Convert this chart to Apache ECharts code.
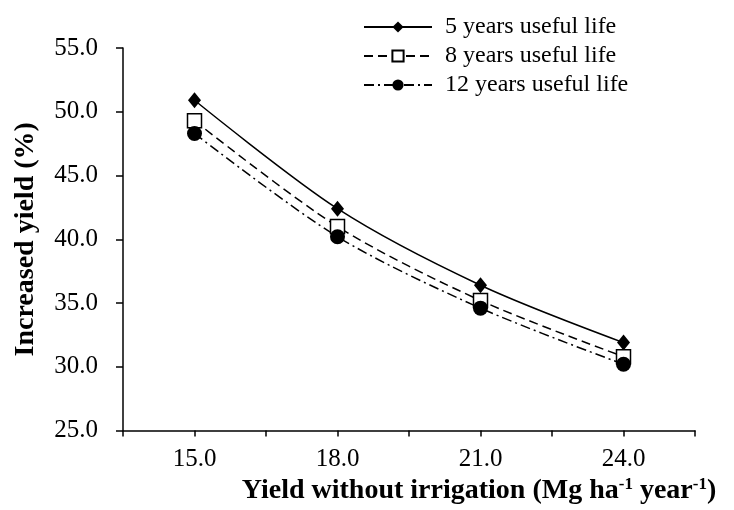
<!DOCTYPE html>
<html>
<head>
<meta charset="utf-8">
<script src="https://cdn.jsdelivr.net/npm/echarts@6/dist/echarts.min.js"></script>
<style>
  html, body { margin: 0; padding: 0; background: #fff; }
  #chart { width: 734px; height: 510px; }
</style>
</head>
<body>
<div id="chart"></div>
<script>
// yield without irrigation (Mg ha-1 year-1)
const yieldNoIrr = [15.0, 18.0, 21.0, 24.0];
// increased yield (%) per useful life
const life5 = [50.9, 42.4, 36.4, 31.9];
const life8 = [49.3, 41.0, 35.2, 30.8];
const life12 = [48.3, 40.2, 34.6, 30.2];
const seriesNames = ['5 years useful life', '8 years useful life', '12 years useful life'];

const font = '"Liberation Serif", "Times New Roman", serif';

function pairs(ys) {
  return yieldNoIrr.map((x, i) => [x, ys[i]]);
}

const chart = echarts.init(document.getElementById('chart'));

let option = {
  animation: false,
  backgroundColor: '#fff',
  textStyle: { fontFamily: font, color: '#000' },
  legend: {
    orient: 'vertical',
    left: 358,
    top: 10,
    itemWidth: 68,
    itemHeight: 14,
    itemGap: 5,
    textStyle: { fontFamily: font, fontSize: 24, color: '#000', padding: [0, 0, 0, 8] },
    data: seriesNames
  },
  grid: { left: 123, top: 48, right: 39, bottom: 77 },
  xAxis: {
    type: 'value',
    min: 13.5,
    max: 25.5,
    interval: 1.5,
    splitLine: { show: false },
    axisLine: { lineStyle: { color: '#000', width: 1.5 } },
    axisTick: { length: 6, lineStyle: { color: '#000', width: 1.5 } },
    axisLabel: {
      fontFamily: font, fontSize: 25, color: '#000', margin: 16,
      formatter: v => (Math.abs(v % 3) < 1e-6 ? v.toFixed(1) : '')
    },
    name: 'Yield without irrigation (Mg ha{sup|-1} year{sup|-1})',
    nameLocation: 'middle',
    nameGap: 44,
    nameTextStyle: {
      fontFamily: font, fontSize: 28, fontWeight: 'bold', color: '#000',
      padding: [0, 0, 0, 140],
      rich: {
        sup: { fontFamily: font, fontSize: 17, fontWeight: 'bold', color: '#000', verticalAlign: 'top', padding: [0, 0, 12, 0] }
      }
    }
  },
  yAxis: {
    type: 'value',
    min: 25,
    max: 55,
    interval: 5,
    splitLine: { show: false },
    axisLine: { show: true, lineStyle: { color: '#000', width: 1.5 } },
    axisTick: { show: true, length: 7, lineStyle: { color: '#000', width: 1.5 } },
    axisLabel: {
      fontFamily: font, fontSize: 25, color: '#000', margin: 25,
      formatter: v => v.toFixed(1)
    },
    name: 'Increased yield (%)',
    nameLocation: 'middle',
    nameGap: 83,
    nameTextStyle: { fontFamily: font, fontSize: 28, fontWeight: 'bold', color: '#000' }
  },
  series: [
    {
      name: seriesNames[0],
      type: 'line',
      smooth: 0.3,
      data: pairs(life5),
      symbol: 'diamond',
      symbolSize: [13, 16],
      itemStyle: { color: '#000' },
      lineStyle: { color: '#000', width: 1.5, type: 'solid' }
    },
    {
      name: seriesNames[1],
      type: 'line',
      smooth: 0.3,
      data: pairs(life8),
      symbol: 'rect',
      symbolSize: 14,
      itemStyle: { color: '#fff', borderColor: '#000', borderWidth: 1.5 },
      lineStyle: { color: '#000', width: 1.5, type: [9, 5] }
    },
    {
      name: seriesNames[2],
      type: 'line',
      smooth: 0.3,
      data: pairs(life12),
      symbol: 'circle',
      symbolSize: 15,
      itemStyle: { color: '#000' },
      lineStyle: { color: '#000', width: 1.5, type: [10, 4, 2, 4] }
    }
  ]
};

chart.setOption(option);
</script>
</body>
</html>
